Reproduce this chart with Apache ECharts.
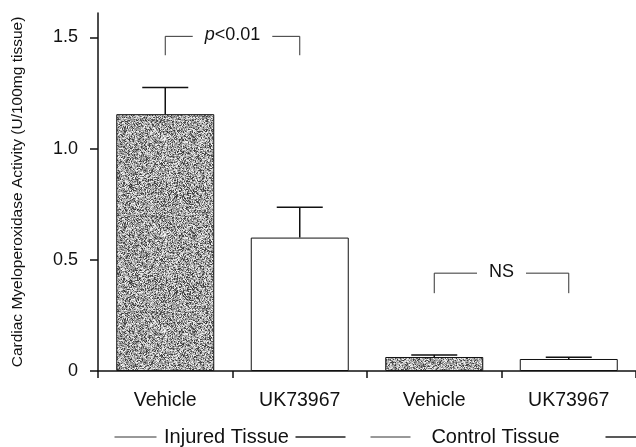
<!DOCTYPE html>
<html><head><meta charset="utf-8">
<script src="https://cdn.jsdelivr.net/npm/echarts@6/dist/echarts.min.js"></script>
<style>html,body{margin:0;padding:0;background:#fff}#c{width:636px;height:447px}</style>
</head><body><div id="c"></div>
<script>
// ---- data ----
const categories = ['Vehicle', 'UK73967', 'Vehicle', 'UK73967'];
const groups = ['Injured Tissue', 'Control Tissue'];
const means = [1.155, 0.60, 0.063, 0.054];
const errorTops = [1.275, 0.736, 0.072, 0.062];
const shaded = [true, false, true, false];
const yTicks = [0, 0.5, 1.0, 1.5];
const comparisons = [
  // [fromIndex, toIndex, topValue, bottomValue, label]
  [0, 1, 1.505, 1.42, 'p<0.01'],
  [2, 3, 0.44, 0.35, 'NS']
];
const yTitle = 'Cardiac Myeloperoxidase Activity (U/100mg tissue)';

// ---- grainy texture for shaded bars (deterministic hash) ----
function makeTexture() {
  const c = document.createElement('canvas');
  c.width = 96; c.height = 96;
  const ctx = c.getContext('2d');
  const img = ctx.createImageData(96, 96);
  for (let y = 0; y < 96; y++) {
    for (let x = 0; x < 96; x++) {
      let h = (x * 374761393 + y * 668265263) | 0;
      h = Math.imul(h ^ (h >>> 13), 1274126177);
      h = (h ^ (h >>> 16)) >>> 0;
      const r = (h % 1000) / 1000;
      let g;
      if (r < 0.22) g = 50 + r * 220;
      else if (r < 0.65) g = 120 + (r - 0.22) * 150;
      else g = 185 + (r - 0.65) * 180;
      const i = (y * 96 + x) * 4;
      img.data[i] = img.data[i + 1] = img.data[i + 2] = g;
      img.data[i + 3] = 255;
    }
  }
  ctx.putImageData(img, 0, 0);
  return c;
}
const tex = makeTexture();

const FONT = 'Liberation Sans, Arial, Helvetica, sans-serif';
const chart = echarts.init(document.getElementById('c'), null, { renderer: 'canvas' });

const barData = means.map((v, i) => ({
  value: v,
  itemStyle: shaded[i]
    ? { color: { image: tex, repeat: 'repeat' }, borderColor: '#111', borderWidth: 1 }
    : { color: '#fff', borderColor: '#111', borderWidth: 1 }
}));

chart.setOption({
  animation: false,
  backgroundColor: '#fff',
  grid: { left: 98, top: 13, width: 540, bottom: 76 },
  xAxis: {
    type: 'category',
    data: categories,
    axisLine: { lineStyle: { color: '#111', width: 1.5 } },
    axisTick: { show: true, length: 7, lineStyle: { color: '#111', width: 1.5 } },
    axisLabel: { color: '#111', fontSize: 19.5, fontFamily: FONT, margin: 20 }
  },
  yAxis: {
    type: 'value',
    min: 0, max: 1.61,
    name: yTitle,
    nameLocation: 'middle',
    nameGap: 72,
    nameTextStyle: { color: '#111', fontSize: 15.5, fontFamily: FONT },
    axisLine: { show: true, lineStyle: { color: '#111', width: 1.5 } },
    axisTick: { show: true, length: 8, customValues: yTicks, lineStyle: { color: '#111', width: 1.5 } },
    axisLabel: {
      customValues: yTicks,
      color: '#111', fontSize: 18, fontFamily: FONT, margin: 20,
      formatter: v => v === 0 ? '0' : v.toFixed(1)
    },
    splitLine: { show: false }
  },
  series: [
    {
      type: 'bar',
      data: barData,
      barWidth: 98,
      z: 2
    },
    {
      type: 'custom',
      z: 3,
      data: means.map((m, i) => [i, m, errorTops[i]]),
      encode: { x: 0, y: 1 },
      renderItem: function (params, api) {
        const i = api.value(0);
        const b = api.coord([i, api.value(1)]);
        const t = api.coord([i, api.value(2)]);
        const hw = 23;
        const st = { stroke: '#111', lineWidth: 1.5 };
        return {
          type: 'group',
          children: [
            { type: 'line', shape: { x1: b[0], y1: b[1], x2: t[0], y2: t[1] }, style: st },
            { type: 'line', shape: { x1: t[0] - hw, y1: t[1], x2: t[0] + hw, y2: t[1] }, style: st }
          ]
        };
      }
    },
    {
      type: 'custom',
      z: 4,
      data: comparisons.map(c => [c[0], c[2], c[1], c[3], c[4]]),
      encode: { x: 0, y: 1 },
      renderItem: function (params, api) {
        const a = api.coord([api.value(0), api.value(1)]);
        const b = api.coord([api.value(2), api.value(1)]);
        const bot = api.coord([api.value(0), api.value(3)])[1];
        const label = comparisons[params.dataIndex][4];
        const st = { stroke: '#333', lineWidth: 1 };
        const mid = (a[0] + b[0]) / 2;
        const txt = label.startsWith('p')
          ? '{i|p}{n|' + label.slice(1) + '}'
          : '{n|' + label + '}';
        return {
          type: 'group',
          children: [
            { type: 'line', shape: { x1: a[0], y1: bot, x2: a[0], y2: a[1] }, style: st },
            { type: 'line', shape: { x1: a[0], y1: a[1], x2: b[0], y2: b[1] }, style: st },
            { type: 'line', shape: { x1: b[0], y1: bot, x2: b[0], y2: b[1] }, style: st },
            {
              type: 'text',
              style: {
                x: mid, y: a[1] - 1,
                text: txt,
                align: 'center', verticalAlign: 'middle',
                backgroundColor: '#fff', padding: [2, 12],
                rich: {
                  i: { fontSize: 18, fontStyle: 'italic', fontFamily: FONT, fill: '#111' },
                  n: { fontSize: 18, fontFamily: FONT, fill: '#111' }
                }
              }
            }
          ]
        };
      }
    },
    {
      type: 'custom',
      z: 4,
      clip: false,
      data: groups.map((g, k) => [2 * k, 0, 2 * k + 1]),
      encode: { x: 0, y: 1 },
      renderItem: function (params, api) {
        const p0 = api.coord([api.value(0), 0]);
        const p1 = api.coord([api.value(2), 0]);
        const cx = (p0[0] + p1[0]) / 2 - 6;
        const y = p0[1] + 66;
        const name = groups[params.dataIndex];
        const st = { stroke: '#333', lineWidth: 1 };
        const st2 = { stroke: '#222', lineWidth: 1.5 };
        const L = params.dataIndex === 0 ? [-112, -70, 69, 119] : [-125, -85, 110, 150];
        return {
          type: 'group',
          children: [
            { type: 'line', shape: { x1: cx + L[0], y1: y, x2: cx + L[1], y2: y }, style: st },
            { type: 'line', shape: { x1: cx + L[2], y1: y, x2: cx + L[3], y2: y }, style: st2 },
            {
              type: 'text',
              style: {
                x: cx, y: y, text: name, align: 'center', verticalAlign: 'middle',
                fontSize: 20, fontFamily: FONT, fill: '#111'
              }
            }
          ]
        };
      }
    }
  ]
});
</script></body></html>
